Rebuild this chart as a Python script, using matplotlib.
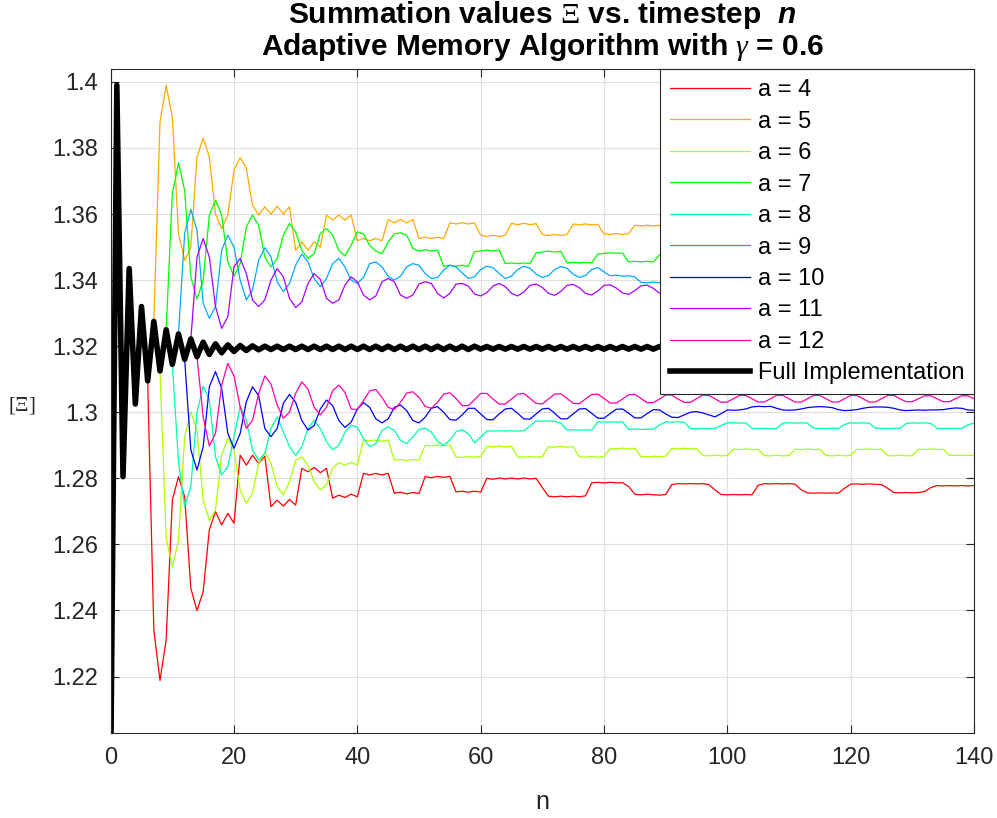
import colorsys
import numpy as np
import matplotlib
matplotlib.use("Agg")
import matplotlib.pyplot as plt
from matplotlib.ticker import FuncFormatter

plt.rcParams['font.family'] = ['Liberation Sans', 'DejaVu Sans']
plt.rcParams['mathtext.fontset'] = 'custom'
plt.rcParams['mathtext.rm'] = 'Liberation Serif'
plt.rcParams['mathtext.it'] = 'Liberation Serif:italic'
plt.rcParams['mathtext.sf'] = 'Liberation Sans:italic:bold'

# ---- data, one value per timestep n ----
# full implementation, n = 0..140
full_impl = [
    1.1900, 1.3990, 1.2805, 1.3435, 1.3025, 1.3320, 1.3095, 1.3275, 1.3125, 1.3250,
    1.3145, 1.3237, 1.3160, 1.3222, 1.3168, 1.3212, 1.3175, 1.3207, 1.3180, 1.3204,
    1.3184, 1.3202, 1.3187, 1.3201, 1.3189, 1.3200, 1.3190, 1.3200, 1.3190, 1.3200,
    1.3190, 1.3200, 1.3190, 1.3200, 1.3190, 1.3200, 1.3190, 1.3200, 1.3190, 1.3200,
    1.3190, 1.3200, 1.3190, 1.3200, 1.3190, 1.3200, 1.3190, 1.3200, 1.3190, 1.3200,
    1.3190, 1.3200, 1.3190, 1.3200, 1.3190, 1.3200, 1.3190, 1.3200, 1.3190, 1.3200,
    1.3191, 1.3199, 1.3191, 1.3199, 1.3191, 1.3199, 1.3191, 1.3199, 1.3191, 1.3199,
    1.3191, 1.3199, 1.3191, 1.3199, 1.3191, 1.3199, 1.3191, 1.3199, 1.3191, 1.3199,
    1.3191, 1.3199, 1.3191, 1.3199, 1.3191, 1.3199, 1.3191, 1.3199, 1.3191, 1.3199,
    1.3191, 1.3199, 1.3191, 1.3199, 1.3191, 1.3199, 1.3191, 1.3199, 1.3191, 1.3199,
    1.3191, 1.3199, 1.3191, 1.3199, 1.3191, 1.3199, 1.3191, 1.3199, 1.3191, 1.3199,
    1.3191, 1.3199, 1.3191, 1.3199, 1.3191, 1.3199, 1.3191, 1.3199, 1.3191, 1.3199,
    1.3191, 1.3199, 1.3191, 1.3199, 1.3191, 1.3199, 1.3191, 1.3199, 1.3191, 1.3199,
    1.3191, 1.3199, 1.3191, 1.3199, 1.3191, 1.3199, 1.3191, 1.3199, 1.3191, 1.3199,
    1.3191,
]

a_values = [4, 5, 6, 7, 8, 9, 10, 11, 12]
# timestep where each adaptive-memory curve leaves the full implementation
a_start = [6, 7, 8, 9, 10, 11, 12, 13, 14]

a4 = [
    1.3095, 1.2341, 1.2188, 1.2311,
    1.2734, 1.2805, 1.2744, 1.2467, 1.2400, 1.2457, 1.2644, 1.2699, 1.2659, 1.2694,
    1.2664, 1.2870, 1.2840, 1.2870, 1.2845, 1.2867, 1.2714, 1.2734, 1.2716, 1.2736,
    1.2719, 1.2830, 1.2820, 1.2833, 1.2817, 1.2830, 1.2740, 1.2749, 1.2742, 1.2752,
    1.2744, 1.2815, 1.2810, 1.2815, 1.2810, 1.2815, 1.2755, 1.2758, 1.2753, 1.2757,
    1.2754, 1.2805, 1.2802, 1.2806, 1.2803, 1.2806, 1.2759, 1.2761, 1.2758, 1.2761,
    1.2758, 1.2800, 1.2797, 1.2801, 1.2798, 1.2801, 1.2798, 1.2801, 1.2798, 1.2800,
    1.2772, 1.2746, 1.2744, 1.2746, 1.2744, 1.2746, 1.2744, 1.2747, 1.2786, 1.2788,
    1.2786, 1.2788, 1.2786, 1.2787, 1.2775, 1.2752, 1.2750, 1.2752, 1.2750, 1.2749,
    1.2751, 1.2781, 1.2784, 1.2783, 1.2784, 1.2783, 1.2784, 1.2781, 1.2765, 1.2751,
    1.2750, 1.2751, 1.2750, 1.2751, 1.2750, 1.2779, 1.2784, 1.2783, 1.2784, 1.2783,
    1.2784, 1.2782, 1.2765, 1.2756, 1.2755, 1.2756, 1.2755, 1.2756, 1.2755, 1.2770,
    1.2782, 1.2783, 1.2782, 1.2783, 1.2782, 1.2781, 1.2770, 1.2757, 1.2756, 1.2757,
    1.2756, 1.2757, 1.2760, 1.2772, 1.2778, 1.2777, 1.2778, 1.2777, 1.2778, 1.2777,
    1.2778,
]

a5 = [
    1.3275, 1.3879, 1.3990,
    1.3894, 1.3541, 1.3460, 1.3500, 1.3773, 1.3830, 1.3773, 1.3600, 1.3556, 1.3597,
    1.3733, 1.3771, 1.3738, 1.3627, 1.3597, 1.3622, 1.3600, 1.3624, 1.3600, 1.3622,
    1.3490, 1.3516, 1.3490, 1.3516, 1.3500, 1.3597, 1.3582, 1.3597, 1.3582, 1.3597,
    1.3519, 1.3526, 1.3519, 1.3526, 1.3519, 1.3584, 1.3573, 1.3584, 1.3573, 1.3584,
    1.3526, 1.3530, 1.3526, 1.3530, 1.3526, 1.3573, 1.3570, 1.3574, 1.3570, 1.3573,
    1.3536, 1.3532, 1.3536, 1.3532, 1.3536, 1.3572, 1.3568, 1.3572, 1.3568, 1.3571,
    1.3538, 1.3535, 1.3538, 1.3535, 1.3538, 1.3570, 1.3567, 1.3570, 1.3567, 1.3569,
    1.3540, 1.3538, 1.3541, 1.3538, 1.3541, 1.3566, 1.3564, 1.3566, 1.3564, 1.3566,
    1.3542, 1.3540, 1.3542, 1.3540, 1.3542, 1.3565, 1.3563, 1.3565, 1.3563, 1.3565,
    1.3544, 1.3542, 1.3544, 1.3542, 1.3544, 1.3564, 1.3562, 1.3564, 1.3562, 1.3564,
    1.3545, 1.3543, 1.3545, 1.3543, 1.3545, 1.3563, 1.3561, 1.3563, 1.3561, 1.3563,
    1.3546, 1.3544, 1.3546, 1.3544, 1.3546, 1.3562, 1.3560, 1.3562, 1.3560, 1.3562,
    1.3547, 1.3545, 1.3547, 1.3545, 1.3547, 1.3561, 1.3559, 1.3561, 1.3559, 1.3561,
    1.3548,
]

a6 = [
    1.3125, 1.2620,
    1.2532, 1.2613, 1.2926, 1.3002, 1.2946, 1.2734, 1.2672, 1.2704, 1.2870, 1.2921,
    1.2886, 1.2765, 1.2724, 1.2755, 1.2845, 1.2880, 1.2845, 1.2775, 1.2750, 1.2790,
    1.2855, 1.2865, 1.2840, 1.2790, 1.2765, 1.2780, 1.2830, 1.2848, 1.2840, 1.2848,
    1.2840, 1.2916, 1.2913, 1.2916, 1.2912, 1.2916, 1.2855, 1.2857, 1.2854, 1.2857,
    1.2855, 1.2900, 1.2898, 1.2901, 1.2898, 1.2901, 1.2865, 1.2863, 1.2866, 1.2864,
    1.2866, 1.2897, 1.2895, 1.2898, 1.2895, 1.2897, 1.2865, 1.2864, 1.2866, 1.2864,
    1.2866, 1.2896, 1.2894, 1.2897, 1.2894, 1.2896, 1.2865, 1.2864, 1.2866, 1.2864,
    1.2866, 1.2890, 1.2889, 1.2891, 1.2889, 1.2891, 1.2866, 1.2865, 1.2867, 1.2865,
    1.2867, 1.2891, 1.2889, 1.2891, 1.2889, 1.2890, 1.2869, 1.2868, 1.2870, 1.2868,
    1.2869, 1.2888, 1.2887, 1.2889, 1.2887, 1.2888, 1.2869, 1.2868, 1.2870, 1.2868,
    1.2869, 1.2888, 1.2887, 1.2889, 1.2887, 1.2888, 1.2869, 1.2868, 1.2870, 1.2868,
    1.2869, 1.2888, 1.2887, 1.2889, 1.2887, 1.2888, 1.2869, 1.2868, 1.2870, 1.2868,
    1.2869, 1.2888, 1.2887, 1.2889, 1.2887, 1.2888, 1.2870, 1.2869, 1.2870, 1.2869,
    1.2870,
]

a7 = [
    1.3250,
    1.3662, 1.3755, 1.3672, 1.3410, 1.3342, 1.3400, 1.3597, 1.3642, 1.3597, 1.3455,
    1.3412, 1.3450, 1.3561, 1.3597, 1.3566, 1.3470, 1.3440, 1.3466, 1.3535, 1.3572,
    1.3545, 1.3490, 1.3466, 1.3480, 1.3541, 1.3556, 1.3536, 1.3490, 1.3473, 1.3506,
    1.3546, 1.3540, 1.3505, 1.3488, 1.3480, 1.3515, 1.3540, 1.3543, 1.3536, 1.3496,
    1.3488, 1.3492, 1.3488, 1.3491, 1.3442, 1.3445, 1.3442, 1.3445, 1.3442, 1.3486,
    1.3488, 1.3491, 1.3488, 1.3491, 1.3450, 1.3452, 1.3450, 1.3452, 1.3450, 1.3483,
    1.3485, 1.3488, 1.3485, 1.3487, 1.3452, 1.3454, 1.3452, 1.3454, 1.3452, 1.3479,
    1.3481, 1.3483, 1.3481, 1.3482, 1.3455, 1.3457, 1.3455, 1.3457, 1.3455, 1.3476,
    1.3478, 1.3480, 1.3478, 1.3479, 1.3457, 1.3459, 1.3457, 1.3459, 1.3457, 1.3475,
    1.3477, 1.3479, 1.3477, 1.3478, 1.3459, 1.3461, 1.3459, 1.3461, 1.3459, 1.3474,
    1.3476, 1.3478, 1.3476, 1.3477, 1.3460, 1.3462, 1.3460, 1.3462, 1.3460, 1.3473,
    1.3475, 1.3477, 1.3475, 1.3476, 1.3461, 1.3463, 1.3461, 1.3463, 1.3461, 1.3472,
    1.3474, 1.3476, 1.3474, 1.3475, 1.3462, 1.3464, 1.3462, 1.3464, 1.3462, 1.3471,
    1.3473,
]

a8 = [
    1.3145, 1.2850, 1.2714, 1.2775, 1.3000, 1.3079, 1.3037, 1.2865, 1.2810, 1.2835,
    1.2926, 1.3019, 1.2976, 1.2886, 1.2855, 1.2875, 1.2951, 1.2986, 1.2941, 1.2896,
    1.2870, 1.2895, 1.2951, 1.2976, 1.2950, 1.2911, 1.2886, 1.2900, 1.2940, 1.2961,
    1.2955, 1.2920, 1.2896, 1.2905, 1.2945, 1.2956, 1.2945, 1.2915, 1.2905, 1.2925,
    1.2948, 1.2952, 1.2940, 1.2912, 1.2900, 1.2915, 1.2941, 1.2947, 1.2935, 1.2908,
    1.2925, 1.2944, 1.2943, 1.2944, 1.2943, 1.2944, 1.2943, 1.2944, 1.2958, 1.2974,
    1.2972, 1.2974, 1.2972, 1.2968, 1.2946, 1.2947, 1.2946, 1.2947, 1.2946, 1.2971,
    1.2970, 1.2971, 1.2970, 1.2971, 1.2948, 1.2949, 1.2948, 1.2949, 1.2948, 1.2962,
    1.2971, 1.2970, 1.2971, 1.2970, 1.2951, 1.2950, 1.2951, 1.2950, 1.2951, 1.2960,
    1.2968, 1.2968, 1.2967, 1.2968, 1.2952, 1.2951, 1.2951, 1.2950, 1.2951, 1.2967,
    1.2968, 1.2967, 1.2968, 1.2967, 1.2952, 1.2951, 1.2951, 1.2952, 1.2951, 1.2963,
    1.2968, 1.2967, 1.2968, 1.2967, 1.2952, 1.2951, 1.2951, 1.2952, 1.2951, 1.2966,
    1.2968, 1.2967, 1.2968, 1.2966, 1.2952, 1.2951, 1.2951, 1.2952, 1.2951, 1.2962,
    1.2967,
]

a9 = [
    1.3237, 1.3541, 1.3614, 1.3551, 1.3330, 1.3284, 1.3320, 1.3491, 1.3536,
    1.3500, 1.3400, 1.3340, 1.3370, 1.3460, 1.3498, 1.3470, 1.3395, 1.3365, 1.3390,
    1.3445, 1.3479, 1.3455, 1.3405, 1.3380, 1.3405, 1.3450, 1.3466, 1.3440, 1.3400,
    1.3390, 1.3408, 1.3450, 1.3455, 1.3440, 1.3412, 1.3400, 1.3412, 1.3440, 1.3450,
    1.3445, 1.3420, 1.3405, 1.3408, 1.3430, 1.3445, 1.3440, 1.3422, 1.3405, 1.3410,
    1.3432, 1.3442, 1.3438, 1.3420, 1.3405, 1.3412, 1.3432, 1.3442, 1.3436, 1.3418,
    1.3408, 1.3414, 1.3432, 1.3441, 1.3436, 1.3418, 1.3408, 1.3414, 1.3432, 1.3438,
    1.3425, 1.3413, 1.3415, 1.3412, 1.3413, 1.3410, 1.3393, 1.3392, 1.3394, 1.3392,
    1.3394, 1.3392, 1.3394, 1.3392, 1.3394, 1.3392, 1.3394, 1.3392, 1.3394, 1.3392,
    1.3394, 1.3392, 1.3394, 1.3392, 1.3394, 1.3392, 1.3394, 1.3392, 1.3394, 1.3392,
    1.3394, 1.3392, 1.3394, 1.3392, 1.3394, 1.3392, 1.3394, 1.3392, 1.3394, 1.3392,
    1.3394, 1.3392, 1.3394, 1.3392, 1.3394, 1.3392, 1.3394, 1.3392, 1.3394, 1.3392,
    1.3394, 1.3392, 1.3394, 1.3392, 1.3394, 1.3392, 1.3394, 1.3392, 1.3394, 1.3392,
    1.3394,
]

a10 = [
    1.3160, 1.2886, 1.2825, 1.2896, 1.3077, 1.3123, 1.3072, 1.2936,
    1.2891, 1.2936, 1.3032, 1.3077, 1.3050, 1.2951, 1.2926, 1.2951, 1.3027, 1.3054,
    1.3030, 1.2975, 1.2946, 1.2960, 1.3010, 1.3037, 1.3020, 1.2975, 1.2954, 1.2970,
    1.3010, 1.3029, 1.3015, 1.2980, 1.2968, 1.2980, 1.3015, 1.3022, 1.3005, 1.2975,
    1.2968, 1.2985, 1.3012, 1.3017, 1.3000, 1.2978, 1.2976, 1.2992, 1.3012, 1.3012,
    1.2995, 1.2978, 1.2977, 1.2995, 1.3010, 1.3012, 1.2997, 1.2980, 1.2979, 1.2995,
    1.3010, 1.3012, 1.2997, 1.2980, 1.2980, 1.2995, 1.3010, 1.3011, 1.2997, 1.2982,
    1.2982, 1.2996, 1.3009, 1.3010, 1.2997, 1.2983, 1.2983, 1.2996, 1.3008, 1.3007,
    1.2995, 1.2985, 1.2984, 1.2992, 1.3000, 1.3002, 1.2998, 1.2992, 1.2986, 1.2996,
    1.3007, 1.3006, 1.3007, 1.3010, 1.3016, 1.3018, 1.3017, 1.3018, 1.3012, 1.3007,
    1.3006, 1.3007, 1.3010, 1.3014, 1.3016, 1.3017, 1.3016, 1.3014, 1.3008, 1.3005,
    1.3006, 1.3008, 1.3012, 1.3015, 1.3016, 1.3016, 1.3015, 1.3012, 1.3007, 1.3005,
    1.3006, 1.3007, 1.3006, 1.3007, 1.3007, 1.3008, 1.3011, 1.3013, 1.3012, 1.3007,
    1.3006,
]

a11 = [
    1.3220, 1.3470, 1.3526, 1.3470, 1.3320, 1.3254, 1.3289,
    1.3440, 1.3466, 1.3420, 1.3340, 1.3320, 1.3340, 1.3400, 1.3435, 1.3410, 1.3345,
    1.3317, 1.3334, 1.3390, 1.3420, 1.3402, 1.3345, 1.3330, 1.3340, 1.3385, 1.3410,
    1.3395, 1.3355, 1.3340, 1.3352, 1.3395, 1.3405, 1.3395, 1.3355, 1.3345, 1.3355,
    1.3388, 1.3395, 1.3390, 1.3360, 1.3346, 1.3360, 1.3388, 1.3390, 1.3382, 1.3358,
    1.3352, 1.3362, 1.3382, 1.3390, 1.3380, 1.3360, 1.3352, 1.3364, 1.3384, 1.3388,
    1.3378, 1.3360, 1.3354, 1.3366, 1.3384, 1.3387, 1.3377, 1.3360, 1.3355, 1.3367,
    1.3384, 1.3386, 1.3376, 1.3361, 1.3357, 1.3368, 1.3383, 1.3385, 1.3375, 1.3361,
    1.3358, 1.3369, 1.3382, 1.3384, 1.3374, 1.3362, 1.3358, 1.3369, 1.3382, 1.3384,
    1.3374, 1.3362, 1.3358, 1.3369, 1.3382, 1.3384, 1.3374, 1.3362, 1.3358, 1.3369,
    1.3382, 1.3384, 1.3374, 1.3362, 1.3358, 1.3369, 1.3382, 1.3384, 1.3374, 1.3362,
    1.3358, 1.3369, 1.3382, 1.3384, 1.3374, 1.3362, 1.3358, 1.3369, 1.3382, 1.3384,
    1.3374, 1.3362, 1.3358, 1.3369, 1.3382, 1.3384, 1.3374, 1.3362, 1.3358, 1.3369,
    1.3382,
]

a12 = [
    1.3168, 1.2986, 1.2898, 1.2936, 1.3082, 1.3148,
    1.3110, 1.3017, 1.2951, 1.2975, 1.3057, 1.3110, 1.3085, 1.3022, 1.2982, 1.3000,
    1.3057, 1.3092, 1.3070, 1.3015, 1.2992, 1.3015, 1.3065, 1.3082, 1.3060, 1.3010,
    1.3008, 1.3035, 1.3065, 1.3069, 1.3045, 1.3015, 1.3008, 1.3030, 1.3058, 1.3062,
    1.3045, 1.3018, 1.3012, 1.3030, 1.3055, 1.3059, 1.3042, 1.3020, 1.3020, 1.3038,
    1.3057, 1.3057, 1.3040, 1.3025, 1.3025, 1.3040, 1.3055, 1.3057, 1.3042, 1.3027,
    1.3025, 1.3040, 1.3055, 1.3056, 1.3042, 1.3027, 1.3026, 1.3040, 1.3054, 1.3055,
    1.3042, 1.3028, 1.3028, 1.3040, 1.3053, 1.3054, 1.3042, 1.3029, 1.3029, 1.3040,
    1.3052, 1.3052, 1.3040, 1.3030, 1.3030, 1.3041, 1.3052, 1.3051, 1.3041, 1.3030,
    1.3031, 1.3041, 1.3051, 1.3051, 1.3041, 1.3031, 1.3031, 1.3041, 1.3051, 1.3051,
    1.3041, 1.3031, 1.3031, 1.3041, 1.3051, 1.3051, 1.3041, 1.3031, 1.3031, 1.3041,
    1.3051, 1.3051, 1.3041, 1.3031, 1.3031, 1.3041, 1.3051, 1.3051, 1.3041, 1.3032,
    1.3032, 1.3041, 1.3050, 1.3050, 1.3041, 1.3032, 1.3032, 1.3041, 1.3050, 1.3050,
    1.3041,
]

a_series = [a4, a5, a6, a7, a8, a9, a10, a11, a12]

x_ticks = [0, 20, 40, 60, 80, 100, 120, 140]
y_ticks = [1.22, 1.24, 1.26, 1.28, 1.30, 1.32, 1.34, 1.36, 1.38, 1.40]

# ---- plot ----
fig = plt.figure(figsize=(9.97, 8.18), dpi=100)
ax = fig.add_axes([0.1110, 0.1035, 0.8659, 0.8117])

# hsv spread of 9 colours, like matlab's hsv(9)
for i, (a, s, vals) in enumerate(zip(a_values, a_start, a_series)):
    col = colorsys.hsv_to_rgb(i / 9.0, 1.0, 1.0)
    n = np.arange(s, s + len(vals))
    ax.plot(n, vals, color=col, lw=0.9, label='a = %d' % a)

ax.plot(np.arange(len(full_impl)), full_impl, color='k', lw=4,
        label='Full Implementation')

ax.set_xlim(0, 140)
ax.set_ylim(1.2028, 1.4038)
ax.set_xticks(x_ticks)
ax.set_yticks(y_ticks)
ax.yaxis.set_major_formatter(FuncFormatter(lambda v, p: '%g' % round(v, 4)))
ax.grid(True, color='#dedede', lw=0.8)
ax.set_axisbelow(True)

ax.tick_params(direction='in', length=6, width=0.8, colors='#262626',
               labelsize=17, top=True, right=True)
ax.tick_params(axis='y', pad=9)
ax.tick_params(axis='x', pad=10)
for sp in ax.spines.values():
    sp.set_color('#262626')
    sp.set_linewidth(0.8)

ax.set_xlabel('n', fontsize=18, color='#262626', labelpad=15)
ax.set_ylabel(r'$[\Xi]$', fontsize=15, rotation=0, color='#262626',
              ha='center', va='center')
ax.yaxis.set_label_coords(-0.1027, 0.494)

fig.text(0.5437, 1 - 15 / 818.0,
         r'Summation values $\Xi$ vs. timestep  $\mathsf{n}$',
         ha='center', va='center', fontsize=21.5, fontweight='bold')
fig.text(0.5437, 1 - 47 / 818.0,
         r'Adaptive Memory Algorithm with $\gamma$ = 0.6',
         ha='center', va='center', fontsize=21.5, fontweight='bold')

leg = ax.legend(loc='upper right', bbox_to_anchor=(1, 1), borderaxespad=0,
                fontsize=17, handlelength=3.4, handletextpad=0.3,
                labelspacing=0.40, borderpad=0.42, fancybox=False,
                framealpha=1, edgecolor='#262626')
leg.get_frame().set_linewidth(0.8)

fig.savefig('out.png', dpi=100)
